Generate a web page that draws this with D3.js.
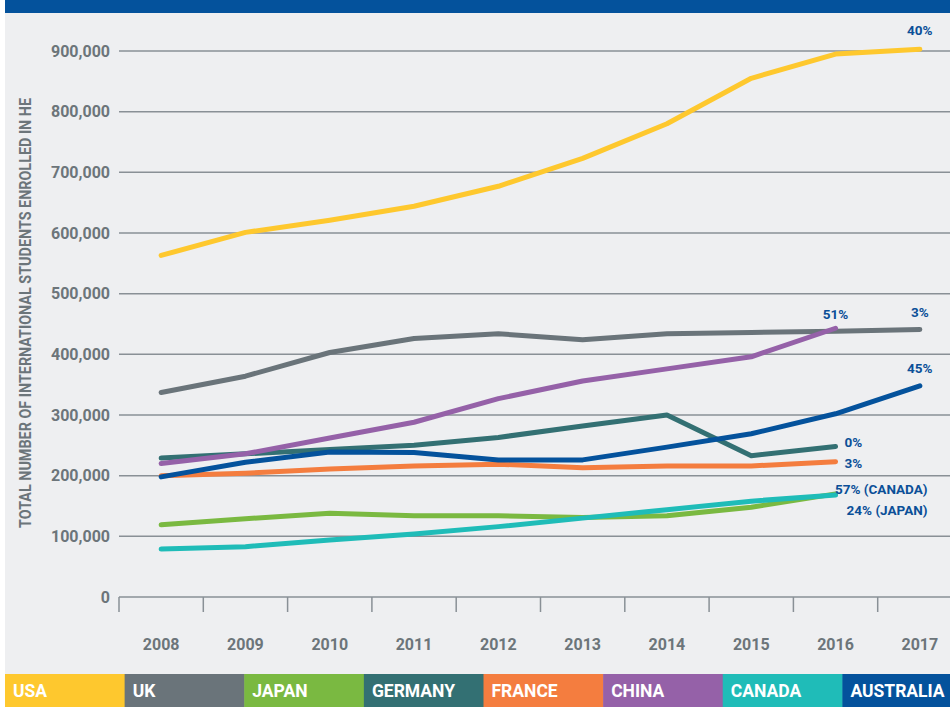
<!DOCTYPE html>
<meta charset="utf-8">
<head>
    <style>
        body {
            margin: 0;
            background: #ffffff;
            font-family: Roboto, "Open Sans", sans-serif;
        }
        .grid line {
            stroke: #899096;
            stroke-width: 1.5;
        }
        .tick-label {
            font-size: 16px;
            font-weight: bold;
            fill: #6c757a;
        }
        .note {
            font-size: 13.5px;
            font-weight: bold;
            fill: #0b4f98;
        }
    </style>
</head>
<body>
    <script src="https://cdn.jsdelivr.net/npm/d3@7"></script>
    <div id="chart"></div>
    <script>
        // years on the x axis
        var years = [2008, 2009, 2010, 2011, 2012, 2013, 2014, 2015, 2016, 2017];

        // y axis ticks
        var yTicks = [0, 100000, 200000, 300000, 400000, 500000, 600000, 700000, 800000, 900000];

        // series, null = no value
        var usa       = [563000, 601000, 621000, 644000, 677000, 723000, 780000, 855000, 895000, 903000];
        var uk        = [337000, 364000, 403000, 426000, 434000, 424000, 434000, 436000, 438000, 441000];
        var japan     = [119000, 129000, 138000, 134000, 134000, 131000, 134000, 148000, 170000, null];
        var germany   = [229000, 236000, 243000, 250000, 263000, 282000, 300000, 233000, 248000, null];
        var france    = [200000, 204000, 211000, 216000, 219000, 213000, 216000, 216000, 223000, null];
        var china     = [220000, 236000, 262000, 288000, 327000, 356000, 376000, 396000, 443000, null];
        var canada    = [79000, 83000, 94000, 104000, 116000, 130000, 144000, 158000, 168000, null];
        var australia = [198000, 222000, 239000, 238000, 226000, 226000, 247000, 269000, 302000, 348000];

        // legend order + colours
        var countries = ["USA", "UK", "JAPAN", "GERMANY", "FRANCE", "CHINA", "CANADA", "AUSTRALIA"];
        var colors = ["#fec82e", "#6a747a", "#7ab941", "#337073", "#f47d3f", "#9561a8", "#1fbcb8", "#04529c"];
        var values = [usa, uk, japan, germany, france, china, canada, australia];

        // growth notes at the line ends
        var notes = ["40%", "3%", "24% (JAPAN)", "0%", "3%", "51%", "57% (CANADA)", "45%"];

        var W = 950, H = 707;

        var svg = d3.select("#chart").append("svg")
            .attr("width", W)
            .attr("height", H);

        // backgrounds
        svg.append("rect").attr("x", 5).attr("y", 0).attr("width", W - 5).attr("height", H).attr("fill", "#eeeff1");
        svg.append("rect").attr("x", 5).attr("y", 0).attr("width", W - 5).attr("height", 13).attr("fill", "#04529c");

        // scales
        var x = d3.scalePoint()
            .domain(years)
            .range([119, 962])
            .padding(0.5);
        var step = x.step();

        var y = d3.scaleLinear()
            .domain([0, 900000])
            .range([597, 51]);

        // horizontal grid lines
        svg.append("g")
            .attr("class", "grid")
            .selectAll("line")
            .data(yTicks.slice(1))
            .enter()
            .append("line")
            .attr("x1", 119)
            .attr("x2", W)
            .attr("y1", function (d) { return y(d); })
            .attr("y2", function (d) { return y(d); });

        // y tick labels
        svg.append("g")
            .selectAll("text")
            .data(yTicks)
            .enter()
            .append("text")
            .attr("class", "tick-label")
            .attr("text-anchor", "end")
            .attr("x", 110)
            .attr("y", function (d) { return y(d); })
            .attr("dy", "0.36em")
            .text(function (d) { return d3.format(",")(d); });

        // x axis: baseline + ticks between the years
        var axis = svg.append("g").attr("class", "grid");
        axis.append("line")
            .attr("x1", 119).attr("x2", W)
            .attr("y1", y(0)).attr("y2", y(0));
        axis.selectAll("line.tk")
            .data(years)
            .enter()
            .append("line")
            .attr("class", "tk")
            .attr("x1", function (d) { return x(d) - step / 2; })
            .attr("x2", function (d) { return x(d) - step / 2; })
            .attr("y1", y(0))
            .attr("y2", y(0) + 15);

        svg.append("g")
            .selectAll("text")
            .data(years)
            .enter()
            .append("text")
            .attr("class", "tick-label")
            .attr("text-anchor", "middle")
            .attr("x", function (d) { return x(d); })
            .attr("y", 650)
            .text(function (d) { return d; });

        // y axis title
        svg.append("text")
            .attr("transform", "translate(31,313) rotate(-90)")
            .attr("text-anchor", "middle")
            .attr("textLength", 430)
            .attr("lengthAdjust", "spacingAndGlyphs")
            .style("font-size", "16px")
            .style("font-weight", "bold")
            .style("fill", "#6c757a")
            .text("TOTAL NUMBER OF INTERNATIONAL STUDENTS ENROLLED IN HE");

        // lines
        var line = d3.line()
            .defined(function (d) { return d !== null; })
            .x(function (d, i) { return x(years[i]); })
            .y(function (d) { return y(d); });

        var drawOrder = [0, 1, 4, 2, 3, 7, 5, 6];
        svg.append("g")
            .selectAll("path")
            .data(drawOrder)
            .enter()
            .append("path")
            .attr("d", function (k) { return line(values[k]); })
            .attr("fill", "none")
            .attr("stroke", function (k) { return colors[k]; })
            .attr("stroke-width", 5)
            .attr("stroke-linecap", "round")
            .attr("stroke-linejoin", "round");

        // end notes
        function lastIndex(arr) {
            for (var i = arr.length - 1; i >= 0; i--) if (arr[i] !== null) return i;
        }
        // offsets per note: [dx, dy, anchor]
        var noteOffsets = [
            [0, -14, "middle"],   // USA
            [0, -12.5, "middle"], // UK
            [92, 21, "end"],      // JAPAN
            [9, 0.5, "start"],    // GERMANY
            [9, 6, "start"],      // FRANCE
            [0, -9, "middle"],    // CHINA
            [92, -1, "end"],      // CANADA
            [0, -13, "middle"]    // AUSTRALIA
        ];
        svg.append("g")
            .selectAll("text")
            .data(d3.range(countries.length))
            .enter()
            .append("text")
            .attr("class", "note")
            .attr("text-anchor", function (k) { return noteOffsets[k][2]; })
            .attr("x", function (k) { return x(years[lastIndex(values[k])]) + noteOffsets[k][0]; })
            .attr("y", function (k) { var v = values[k]; return y(v[lastIndex(v)]) + noteOffsets[k][1]; })
            .text(function (k) { return notes[k]; });

        // legend bar
        var lg = d3.scaleBand()
            .domain(countries)
            .range([5, 962]);

        var legend = svg.append("g")
            .selectAll("g")
            .data(countries)
            .enter()
            .append("g");
        legend.append("rect")
            .attr("x", function (d) { return lg(d); })
            .attr("y", 674)
            .attr("width", lg.bandwidth() + 0.5)
            .attr("height", H - 674)
            .attr("fill", function (d, i) { return colors[i]; });
        legend.append("text")
            .attr("x", function (d) { return lg(d) + 8; })
            .attr("y", 697)
            .style("font-size", "17.5px")
            .style("font-weight", "bold")
            .style("fill", "#ffffff")
            .text(function (d) { return d; });
    </script>
</body>
